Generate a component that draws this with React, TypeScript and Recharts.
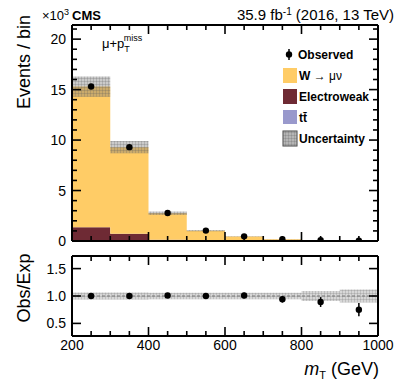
import React from 'react';
import { ComposedChart, Area, Scatter, ErrorBar, XAxis, YAxis, ReferenceLine } from 'recharts';

// histogram binning (GeV) and contents in units of 10^3 events
const binEdges = [200, 300, 400, 500, 600, 700, 800, 900, 1000];
const ttbar = [0.1, 0.05, 0.02, 0.01, 0.005, 0.002, 0.001, 0.001];
const electroweak = [1.25, 0.66, 0.1, 0.04, 0.02, 0.01, 0.005, 0.002];
const wMuNu = [13.95, 8.59, 2.63, 0.97, 0.42, 0.17, 0.075, 0.037];
const mcUnc = [1.0, 0.6, 0.17, 0.06, 0.03, 0.012, 0.007, 0.005];
const observed = [15.3, 9.3, 2.78, 1.03, 0.46, 0.17, 0.07, 0.03];

// lower panel
const ratio = [1.0, 1.0, 1.01, 1.0, 1.01, 0.94, 0.89, 0.75];
const ratioErr = [0.01, 0.01, 0.02, 0.03, 0.05, 0.06, 0.09, 0.12];
const ratioUnc = [0.065, 0.065, 0.06, 0.06, 0.06, 0.06, 0.09, 0.12];

const xTicks = [200, 250, 300, 350, 400, 450, 500, 550, 600, 650, 700, 750, 800, 850, 900, 950, 1000];
const yTicks = Array.from({ length: 22 }, (_, i) => i);
const ratioTicks = [0.5, 1.0, 1.5];

const FONT = '"Liberation Sans", Arial, Helvetica, sans-serif';
const last = binEdges.length - 2;

const histData = binEdges.map((x, i) => {
  const k = Math.min(i, last);
  const tot = ttbar[k] + electroweak[k] + wMuNu[k];
  return {
    x,
    tt: ttbar[k],
    ew: electroweak[k],
    w: wMuNu[k],
    band: [tot - mcUnc[k], tot + mcUnc[k]],
    rband: [1 - ratioUnc[k], 1 + ratioUnc[k]],
  };
});

const centers = binEdges.slice(0, -1).map((e, i) => (e + binEdges[i + 1]) / 2);
const obsData = centers.map((x, i) => ({ x, y: observed[i], err: Math.sqrt(observed[i] * 1000) / 1000 }));
const ratioData = centers.map((x, i) => ({ x, y: ratio[i], err: ratioErr[i] }));

type Side = 'bottom' | 'top' | 'left' | 'right';

// ticks point into the frame, ROOT style; labels only on major ticks
function makeTick(side: Side, isMajor: (v: number) => boolean, label?: (v: number) => string, majorLen = 9, minorLen = 5) {
  return (props: any) => {
    const { x, y, payload } = props;
    const v = payload.value;
    const major = isMajor(v);
    const len = major ? majorLen : minorLen;
    let x2 = x;
    let y2 = y;
    if (side === 'bottom') y2 = y - len;
    if (side === 'top') y2 = y + len;
    if (side === 'left') x2 = x + len;
    if (side === 'right') x2 = x - len;
    let text = null;
    if (label && major) {
      if (side === 'bottom') {
        text = (
          <text x={x} y={y + 14} textAnchor="middle" fontSize={14} fontFamily={FONT} fill="#000">
            {label(v)}
          </text>
        );
      } else if (side === 'left') {
        text = (
          <text x={x - 6} y={y} dy="0.36em" textAnchor="end" fontSize={14} fontFamily={FONT} fill="#000">
            {label(v)}
          </text>
        );
      }
    }
    return (
      <g>
        <line x1={x} y1={y} x2={x2} y2={y2} stroke="#000" strokeWidth={1.6} />
        {text}
      </g>
    );
  };
}

const xMajor = (v: number) => v % 200 === 0;
const yMajor = (v: number) => v % 5 === 0;
const all = () => true;
const axisLine = { stroke: '#000', strokeWidth: 2 };

const dot = (p: any) => <circle cx={p.cx} cy={p.cy} r={3.2} fill="#000" />;

export default function App() {
  return (
    <div style={{ position: 'absolute', left: 0, top: 0, width: 399, height: 383, background: '#fff' }}>
      <svg width={0} height={0} style={{ position: 'absolute' }}>
        <defs>
          <pattern id="hatch" width={3} height={3} patternUnits="userSpaceOnUse">
            <rect width={3} height={3} fill="rgba(115,115,115,0.38)" />
            <path d="M0 0.5H3M0.5 0V3" stroke="rgba(90,90,90,0.22)" strokeWidth={1} />
          </pattern>
          <pattern id="hatchLight" width={3} height={3} patternUnits="userSpaceOnUse">
            <rect width={3} height={3} fill="rgba(150,150,150,0.38)" />
            <path d="M0 0.5H3M0.5 0V3" stroke="rgba(120,120,120,0.25)" strokeWidth={1} />
          </pattern>
        </defs>
      </svg>

      <div style={{ position: 'absolute', left: 0, top: 0 }}>
        <ComposedChart width={399} height={250} data={histData} margin={{ top: 24, right: 20, bottom: 8, left: 71 }}>
          <XAxis xAxisId="b" dataKey="x" type="number" domain={[200, 1000]} allowDataOverflow ticks={xTicks} interval={0}
            height={1} tickSize={0} tickMargin={0} tickLine={false} axisLine={axisLine} tick={makeTick('bottom', xMajor)} />
          <XAxis xAxisId="t" orientation="top" dataKey="x" type="number" domain={[200, 1000]} allowDataOverflow ticks={xTicks} interval={0}
            height={1} tickSize={0} tickMargin={0} tickLine={false} axisLine={axisLine} tick={makeTick('top', xMajor)} />
          <YAxis yAxisId="l" type="number" domain={[0, 21.4]} allowDataOverflow ticks={yTicks} interval={0}
            width={1} tickSize={0} tickMargin={0} tickLine={false} axisLine={axisLine} tick={makeTick('left', yMajor, (v) => String(v))} />
          <YAxis yAxisId="r" orientation="right" type="number" domain={[0, 21.4]} allowDataOverflow ticks={yTicks} interval={0}
            width={1} tickSize={0} tickMargin={0} tickLine={false} axisLine={axisLine} tick={makeTick('right', yMajor)} />
          <Area xAxisId="b" yAxisId="l" type="stepAfter" dataKey="tt" stackId="mc" fill="#9999cc" fillOpacity={1} stroke="none" isAnimationActive={false} />
          <Area xAxisId="b" yAxisId="l" type="stepAfter" dataKey="ew" stackId="mc" fill="#6e2a34" fillOpacity={1} stroke="none" isAnimationActive={false} />
          <Area xAxisId="b" yAxisId="l" type="stepAfter" dataKey="w" stackId="mc" fill="#ffcc66" fillOpacity={1} stroke="none" isAnimationActive={false} />
          <Area xAxisId="b" yAxisId="l" type="stepAfter" dataKey="band" fill="url(#hatch)" fillOpacity={1} stroke="none" isAnimationActive={false} />
          <Scatter xAxisId="b" yAxisId="l" data={obsData} dataKey="y" shape={dot} isAnimationActive={false}>
            <ErrorBar dataKey="err" direction="y" width={0} stroke="#000" strokeWidth={1.5} />
          </Scatter>
        </ComposedChart>
      </div>

      <div style={{ position: 'absolute', left: 0, top: 245 }}>
        <ComposedChart width={399} height={138} data={histData} margin={{ top: 10, right: 20, bottom: 46, left: 71 }}>
          <XAxis xAxisId="b" dataKey="x" type="number" domain={[200, 1000]} allowDataOverflow ticks={xTicks} interval={0}
            height={1} tickSize={0} tickMargin={0} tickLine={false} axisLine={axisLine} tick={makeTick('bottom', xMajor, (v) => String(v))} />
          <XAxis xAxisId="t" orientation="top" dataKey="x" type="number" domain={[200, 1000]} allowDataOverflow ticks={xTicks} interval={0}
            height={1} tickSize={0} tickMargin={0} tickLine={false} axisLine={axisLine} tick={makeTick('top', xMajor)} />
          <YAxis yAxisId="l" type="number" domain={[0.27, 1.73]} allowDataOverflow ticks={ratioTicks} interval={0}
            width={1} tickSize={0} tickMargin={0} tickLine={false} axisLine={axisLine} tick={makeTick('left', all, (v) => v.toFixed(1))} />
          <YAxis yAxisId="r" orientation="right" type="number" domain={[0.27, 1.73]} allowDataOverflow ticks={ratioTicks} interval={0}
            width={1} tickSize={0} tickMargin={0} tickLine={false} axisLine={axisLine} tick={makeTick('right', all)} />
          <Area xAxisId="b" yAxisId="l" type="stepAfter" dataKey="rband" fill="url(#hatchLight)" fillOpacity={1} stroke="none" isAnimationActive={false} />
          <ReferenceLine xAxisId="b" yAxisId="l" y={1} stroke="#777" strokeDasharray="3 2" strokeWidth={1} />
          <Scatter xAxisId="b" yAxisId="l" data={ratioData} dataKey="y" shape={dot} isAnimationActive={false}>
            <ErrorBar dataKey="err" direction="y" width={0} stroke="#000" strokeWidth={1.5} />
          </Scatter>
        </ComposedChart>
      </div>

      <svg width={399} height={383} style={{ position: 'absolute', left: 0, top: 0, pointerEvents: 'none' }} fontFamily={FONT}>
        <text x={42} y={20} fontSize={13}>×10<tspan dy={-5} fontSize={9}>3</tspan></text>
        <text x={72} y={20} fontSize={13} fontWeight="bold">CMS</text>
        <text x={394} y={20} fontSize={15} textAnchor="end">
          35.9 fb<tspan dy={-5} fontSize={10}>-1</tspan><tspan dy={5}> (2016, 13 TeV)</tspan>
        </text>
        <text x={102} y={48} fontSize={13}>
          μ+p<tspan dy={4} fontSize={9}>T</tspan><tspan dx={-6} dy={-11} fontSize={9}>miss</tspan>
        </text>
        <text transform="translate(30,62) rotate(-90)" fontSize={18} textAnchor="middle">Events / bin</text>
        <text transform="translate(30,288) rotate(-90)" fontSize={18} textAnchor="middle">Obs/Exp</text>
        <text x={379} y={375} fontSize={18} textAnchor="end">
          <tspan fontStyle="italic">m</tspan><tspan fontSize={11} dy={4}>T</tspan><tspan dy={-4}> (GeV)</tspan>
        </text>

        <g fontSize={12} fontWeight="bold">
          <line x1={289} y1={49} x2={289} y2={60} stroke="#000" strokeWidth={1.5} />
          <circle cx={289} cy={54.5} r={3.2} fill="#000" />
          <text x={298} y={59}>Observed</text>
          <rect x={283} y={68} width={14} height={15} fill="#ffcc66" />
          <text x={299} y={80}>W<tspan fontWeight="normal"> → μν</tspan></text>
          <rect x={283} y={89} width={14} height={15} fill="#6e2a34" />
          <text x={299} y={101}>Electroweak</text>
          <rect x={283} y={110} width={14} height={14} fill="#9999cc" />
          <text x={299} y={122}>tt̄</text>
          <rect x={283} y={131} width={14} height={15} fill="#ddd" stroke="#444" strokeWidth={1} />
          <rect x={283} y={131} width={14} height={15} fill="url(#hatch)" />
          <text x={299} y={143}>Uncertainty</text>
        </g>
      </svg>
    </div>
  );
}
